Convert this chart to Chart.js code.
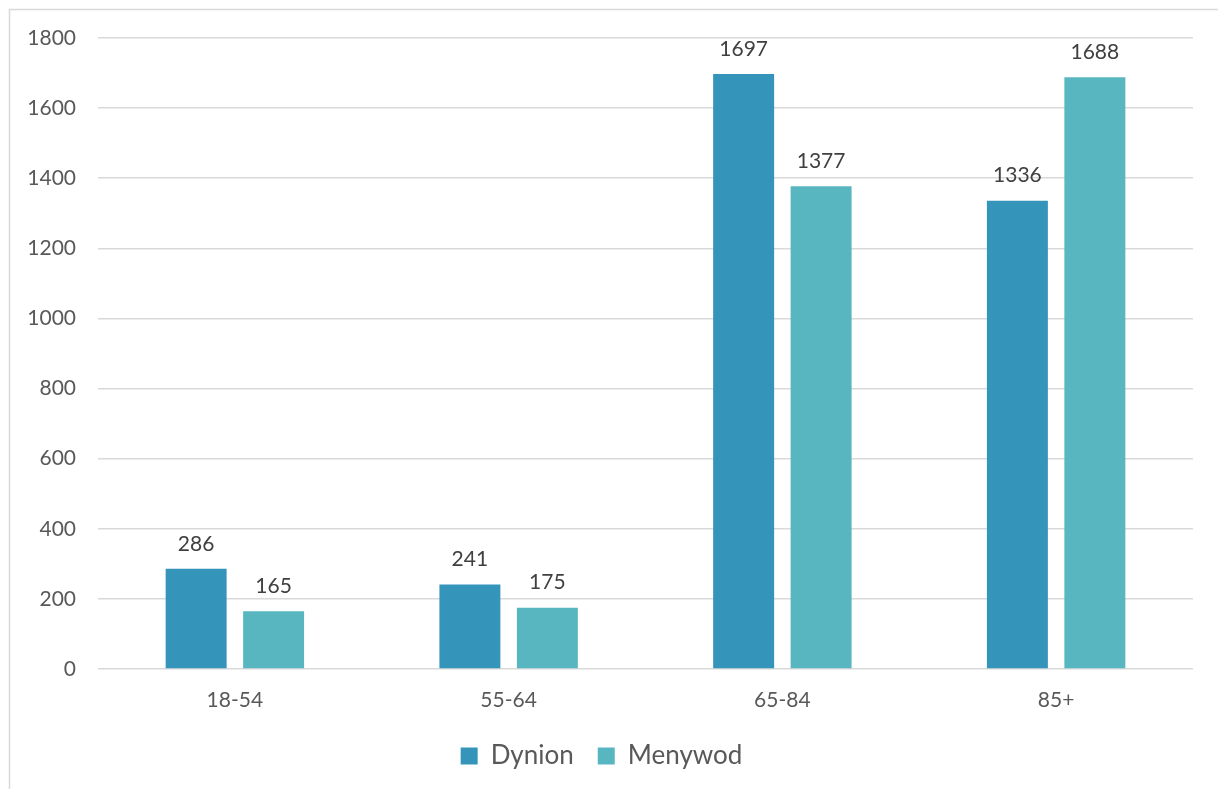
<!DOCTYPE html>
<html>
<head>
<meta charset="utf-8">
<script src="https://cdn.jsdelivr.net/npm/chart.js@4.4.1/dist/chart.umd.min.js"></script>
<style>
  html, body { margin: 0; padding: 0; background: #fff; }
  #wrap { width: 1218px; height: 789px; }
</style>
</head>
<body>
<div id="wrap"><canvas id="grafico" width="1218" height="789"></canvas></div>
<script>
const categorias = ["18-54", "55-64", "65-84", "85+"];
const dynion = [286, 241, 1697, 1336];
const menywod = [165, 175, 1377, 1688];
const ticksY = [0, 200, 400, 600, 800, 1000, 1200, 1400, 1600, 1800];

const fonte = "Lato, 'Open Sans', sans-serif";

// moldura fina à esquerda e em cima
const moldura = {
  id: "moldura",
  beforeDraw(chart) {
    const ctx = chart.ctx;
    ctx.save();
    ctx.strokeStyle = "#d9d9d9";
    ctx.lineWidth = 1.5;
    ctx.beginPath();
    ctx.moveTo(9.5, chart.height);
    ctx.lineTo(9.5, 9.5);
    ctx.lineTo(chart.width, 9.5);
    ctx.stroke();
    ctx.restore();
  },
};

// rótulos com o valor acima de cada barra
const rotulos = {
  id: "rotulos",
  afterDatasetsDraw(chart) {
    const ctx = chart.ctx;
    ctx.save();
    ctx.font = "21px " + fonte;
    ctx.fillStyle = "#404040";
    ctx.textAlign = "center";
    ctx.textBaseline = "middle";
    chart.data.datasets.forEach((dataset, i) => {
      chart.getDatasetMeta(i).data.forEach((barra, j) => {
        ctx.fillText(dataset.data[j], barra.x, barra.y - 25);
      });
    });
    ctx.restore();
  },
};

const graficoIdade = new Chart(document.getElementById("grafico"), {
  type: "bar",
  data: {
    labels: categorias,
    datasets: [
      {
        label: "Dynion",
        data: dynion,
        backgroundColor: "#3494ba",
        categoryPercentage: 0.566,
        barPercentage: 0.787,
      },
      {
        label: "Menywod",
        data: menywod,
        backgroundColor: "#58b6c0",
        categoryPercentage: 0.566,
        barPercentage: 0.787,
      },
    ],
  },
  options: {
    responsive: false,
    animation: false,
    layout: { padding: { left: 10, right: 25, top: 38, bottom: 10 } },
    plugins: {
      legend: {
        position: "bottom",
        labels: {
          boxWidth: 17,
          boxHeight: 17,
          padding: 24,
          color: "#595959",
          font: { family: fonte, size: 26 },
        },
      },
      tooltip: { enabled: false },
    },
    scales: {
      x: {
        grid: { display: false },
        border: { display: false },
        ticks: {
          color: "#595959",
          font: { family: fonte, size: 21 },
          padding: 11,
        },
        afterFit(escala) {
          escala.height = 50;
        },
      },
      y: {
        min: 0,
        max: 1800,
        afterBuildTicks(escala) {
          escala.ticks = ticksY.map((v) => ({ value: v }));
        },
        grid: { color: "#d9d9d9", lineWidth: 1.5, drawTicks: false },
        border: { display: false },
        ticks: {
          color: "#595959",
          font: { family: fonte, size: 21 },
          padding: 22,
          callback: (v) => String(v),
        },
        afterFit(escala) {
          escala.width = 88;
        },
      },
    },
  },
  plugins: [moldura, rotulos],
});
</script>
</body>
</html>
